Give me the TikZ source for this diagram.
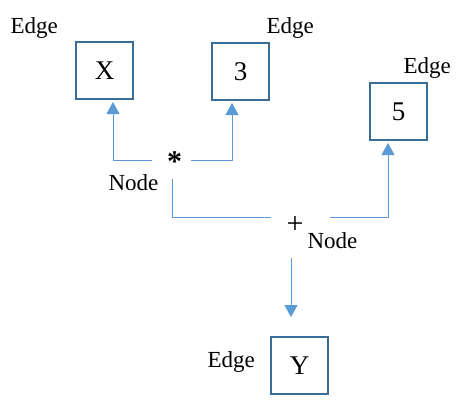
\documentclass[tikz,border=0pt]{standalone}
\usepackage{fontspec}
\setmainfont{Liberation Serif}
\usetikzlibrary{arrows.meta}
\definecolor{boxblue}{HTML}{3A6E96}
\definecolor{linkblue}{HTML}{5B9BD5}
\begin{document}
\begin{tikzpicture} [x=1pt, y=-1pt, line width=1pt,
  box/.style={draw=boxblue, line width=2pt, minimum size=57pt, inner sep=0pt, font=\fontsize{27}{29}\selectfont},
  op/.style={inner sep=0pt, font=\fontsize{30}{32}\selectfont},
  tag/.style={anchor=base west, inner sep=0pt, font=\fontsize{23}{26}\selectfont},
  link/.style={draw=linkblue},
  arrow/.style={draw=linkblue, -{Triangle[width=13pt, length=12pt]}, shorten >=2pt}]
\useasboundingbox (0,0) rectangle (469,410);

\node at (104.5,70.5) [box] (xbox) {X};
\node at (240.5,71.5) [box] (threebox) {3};
\node at (398.5,111.5) [box] (fivebox) {5};
\node at (299.5,365.5) [box] (ybox) {Y};

\node at (174.5,162) [op] (mul) {\bfseries *};
\node at (295,225) [op] (add) {+};

\node at (10,33) [tag] (edgex) {Edge};
\node at (266,33) [tag] (edgethree) {Edge};
\node at (403,73) [tag] (edgefive) {Edge};
\node at (207,367) [tag] (edgey) {Edge};
\node at (108,190) [tag] (nodemul) {Node};
\node at (307,248) [tag] (nodeadd) {Node};

\draw [arrow] ([xshift=-22.5pt, yshift=2pt]mul.center) -| ([xshift=8.5pt]xbox.south);
\draw [arrow] ([xshift=16.5pt, yshift=2pt]mul.center) -| ([xshift=-8.5pt]threebox.south);
\draw [link] ([xshift=-24pt, yshift=8pt]add.center) -| ([xshift=-2.5pt, yshift=-17pt]mul.center);
\draw [arrow] ([xshift=35pt, yshift=8pt]add.center) -| ([xshift=-10.5pt]fivebox.south);
\draw [arrow, shorten >=19pt] ([xshift=-4pt, yshift=-33pt]add.center) -- ([xshift=-8.5pt]ybox.north);

\end{tikzpicture}
\end{document}
